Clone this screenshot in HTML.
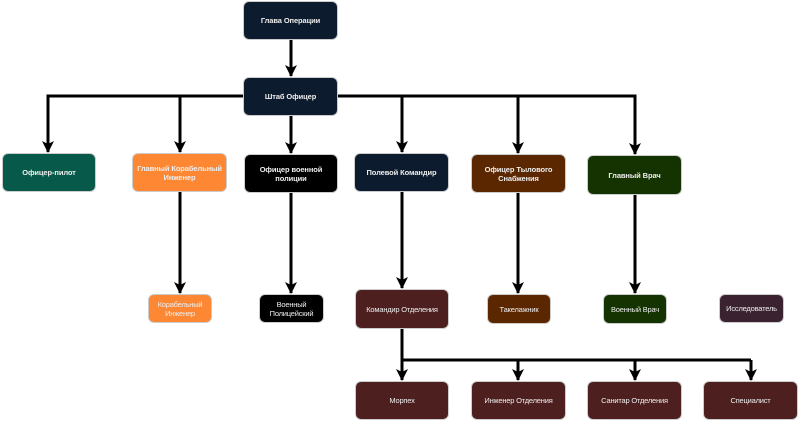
<!DOCTYPE html>
<html><head><meta charset="utf-8"><style>
body{margin:0;width:800px;height:421px;background:#fff;position:relative;overflow:hidden;font-family:"Liberation Sans",sans-serif}
.n{position:absolute;border-radius:6px;color:#eee;font-size:7.5px;font-weight:bold;display:flex;align-items:center;justify-content:center;text-align:center;line-height:1.2;box-sizing:border-box;padding:0 1px;border:1px solid #ccc;letter-spacing:-0.1px;white-space:nowrap}
.s{font-weight:normal;letter-spacing:-0.2px}
svg{position:absolute;left:0;top:0}
</style></head><body>
<svg width="800" height="421">
<defs>
<marker id="b" markerWidth="12" markerHeight="12" refX="11" refY="6" orient="auto" markerUnits="userSpaceOnUse"><path d="M0,0 L12,6 L0,12 L3,6 z" fill="#000"/></marker></defs>
<g stroke="#000" stroke-width="3" fill="none">
<line x1="291" y1="40" x2="291" y2="76" marker-end="url(#b)"/>
<polyline points="48,152 48,96 635,96 635,154"/>
<line x1="48" y1="96" x2="48" y2="152" marker-end="url(#b)"/>
<line x1="180" y1="96" x2="180" y2="152" marker-end="url(#b)"/>
<line x1="291" y1="116" x2="291" y2="153" marker-end="url(#b)"/>
<line x1="402" y1="96" x2="402" y2="152" marker-end="url(#b)"/>
<line x1="518" y1="96" x2="518" y2="153" marker-end="url(#b)"/>
<line x1="635" y1="96" x2="635" y2="154" marker-end="url(#b)"/>
<line x1="180" y1="192" x2="180" y2="293" marker-end="url(#b)"/>
<line x1="291" y1="193" x2="291" y2="293" marker-end="url(#b)"/>
<line x1="402" y1="192" x2="402" y2="288" marker-end="url(#b)"/>
<line x1="518" y1="193" x2="518" y2="293" marker-end="url(#b)"/>
<line x1="635" y1="195" x2="635" y2="293" marker-end="url(#b)"/>
<polyline points="402,329 402,360 751,360"/>
<line x1="402" y1="360" x2="402" y2="380" marker-end="url(#b)"/>
<line x1="518" y1="360" x2="518" y2="380" marker-end="url(#b)"/>
<line x1="635" y1="360" x2="635" y2="380" marker-end="url(#b)"/>
<line x1="751" y1="360" x2="751" y2="380" marker-end="url(#b)"/>
</g></svg>
<div class="n" style="left:243px;top:1px;width:95px;height:39px;background:#0d1b2e">Глава Операции</div>
<div class="n" style="left:243px;top:77px;width:95px;height:39px;background:#0d1b2e">Штаб Офицер</div>
<div class="n" style="left:2px;top:153px;width:94px;height:39px;background:#075a4a">Офицер-пилот</div>
<div class="n" style="left:132px;top:153px;width:95px;height:39px;background:#fd8733">Главный Корабельный<br>Инженер</div>
<div class="n" style="left:244px;top:154px;width:94px;height:39px;background:#000">Офицер военной<br>полиции</div>
<div class="n" style="left:354px;top:153px;width:95px;height:39px;background:#0d1b2e">Полевой Командир</div>
<div class="n" style="left:471px;top:154px;width:95px;height:39px;background:#5b2700">Офицер Тылового<br>Снабжения</div>
<div class="n" style="left:587px;top:155px;width:95px;height:40px;background:#143300">Главный Врач</div>
<div class="n s" style="left:148px;top:294px;width:64px;height:29px;background:#fd8733">Корабельный<br>Инженер</div>
<div class="n s" style="left:259px;top:294px;width:65px;height:29px;background:#000">Военный<br>Полицейский</div>
<div class="n s" style="left:355px;top:289px;width:94px;height:40px;background:#4d1f1f">Командир Отделения</div>
<div class="n s" style="left:487px;top:294px;width:64px;height:30px;background:#5b2700">Такелажник</div>
<div class="n s" style="left:603px;top:294px;width:64px;height:30px;background:#143300">Военный Врач</div>
<div class="n s" style="left:719px;top:294px;width:65px;height:29px;background:#3b2230">Исследователь</div>
<div class="n s" style="left:355px;top:381px;width:94px;height:39px;background:#4d1f1f">Морпех</div>
<div class="n s" style="left:471px;top:381px;width:95px;height:39px;background:#4d1f1f">Инженер Отделения</div>
<div class="n s" style="left:587px;top:381px;width:95px;height:39px;background:#4d1f1f">Санитар Отделения</div>
<div class="n s" style="left:703px;top:381px;width:95px;height:39px;background:#4d1f1f">Специалист</div>
</body></html>
